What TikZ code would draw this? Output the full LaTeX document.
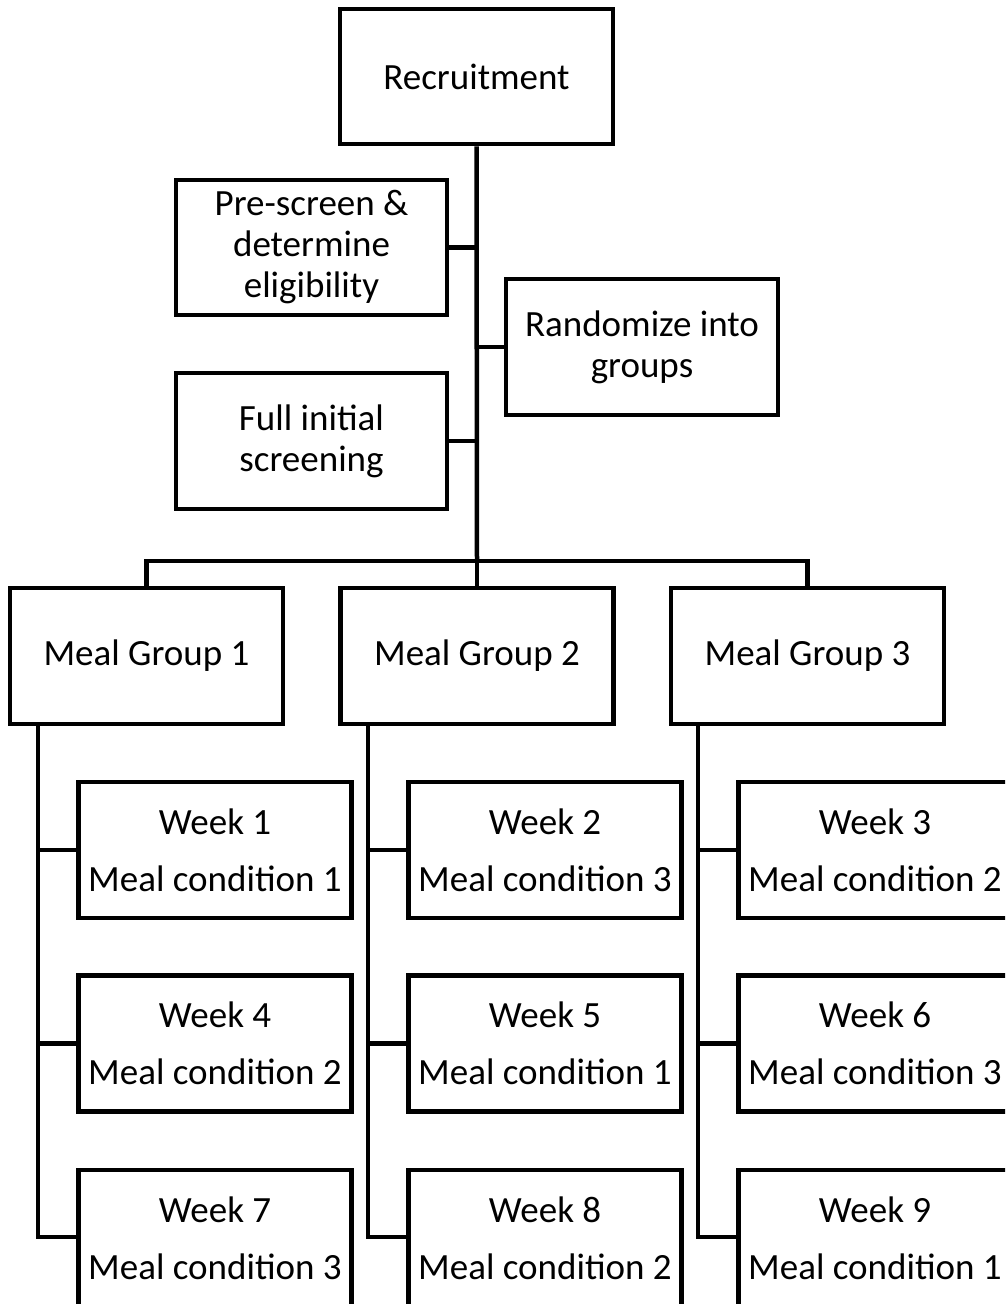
\documentclass[tikz,border=0pt]{standalone}
\usepackage{fontspec}
\setmainfont{Carlito}
\begin{document}
\begin{tikzpicture}[x=1pt,y=-1pt,
  box/.style={draw=black,line width=4.5pt,minimum width=273pt,minimum height=136pt,inner sep=0pt,align=center,font=\fontsize{37}{41}\selectfont},
  weekbox/.style={box,font=\fontsize{37}{57}\selectfont},
  conn/.style={draw=black,line width=4.5pt}]
\useasboundingbox (0,0) rectangle (1005,1304);
\clip (0,0) rectangle (1005,1304);
\fill[white] (0,0) rectangle (1005,1304);
% top part
\node[box,minimum height=135pt] (rec) at (476.5,76.5) {Recruitment};
\node[box,minimum width=271pt,minimum height=135pt] (pre) at (311.5,247.5) {Pre-screen \&\\determine\\eligibility};
\node[box,minimum width=272pt] (rand) at (642,347) {Randomize into\\groups};
\node[box,minimum width=271pt] (full) at (311.5,441) {Full initial\\screening};
\coordinate (j) at (477,561);
% groups
\node[box] (g1) at (146.5,656) {Meal Group 1};
\node[box] (g2) at (477,656) {Meal Group 2};
\node[box] (g3) at (807.5,656) {Meal Group 3};
% weeks
\node[weekbox] (w1) at (215,850) {Week 1\\Meal condition 1};
\node[weekbox] (w4) at (215,1043.5) {Week 4\\Meal condition 2};
\node[weekbox] (w7) at (215,1238) {Week 7\\Meal condition 3};
\node[weekbox] (w2) at (545,850) {Week 2\\Meal condition 3};
\node[weekbox] (w5) at (545,1043.5) {Week 5\\Meal condition 1};
\node[weekbox] (w8) at (545,1238) {Week 8\\Meal condition 2};
\node[weekbox] (w3) at (875,850) {Week 3\\Meal condition 2};
\node[weekbox] (w6) at (875,1043.5) {Week 6\\Meal condition 3};
\node[weekbox] (w9) at (875,1238) {Week 9\\Meal condition 1};
% column spine coordinates
\coordinate (c1) at (38,1237);
\coordinate (c2) at (368,1237);
\coordinate (c3) at (698,1237);
% connectors
\draw[conn] (rec.south) -- (j);
\draw[conn] (pre.east) -- (pre.east -| j);
\draw[conn] (rand.west) -- (rand.west -| j);
\draw[conn] (full.east) -- (full.east -| j);
\draw[conn] (g1.north) |- (j) -| (g3.north);
\draw[conn] (j) -- (g2.north);
\foreach \g/\c/\a/\b/\d in {g1/c1/w1/w4/w7, g2/c2/w2/w5/w8, g3/c3/w3/w6/w9}{
  \draw[conn] (\g.south -| \c) -- (\c) -- (\c -| \d.west);
  \draw[conn] (\a.west -| \c) -- (\a.west);
  \draw[conn] (\b.west -| \c) -- (\b.west);
}
\end{tikzpicture}
\end{document}
